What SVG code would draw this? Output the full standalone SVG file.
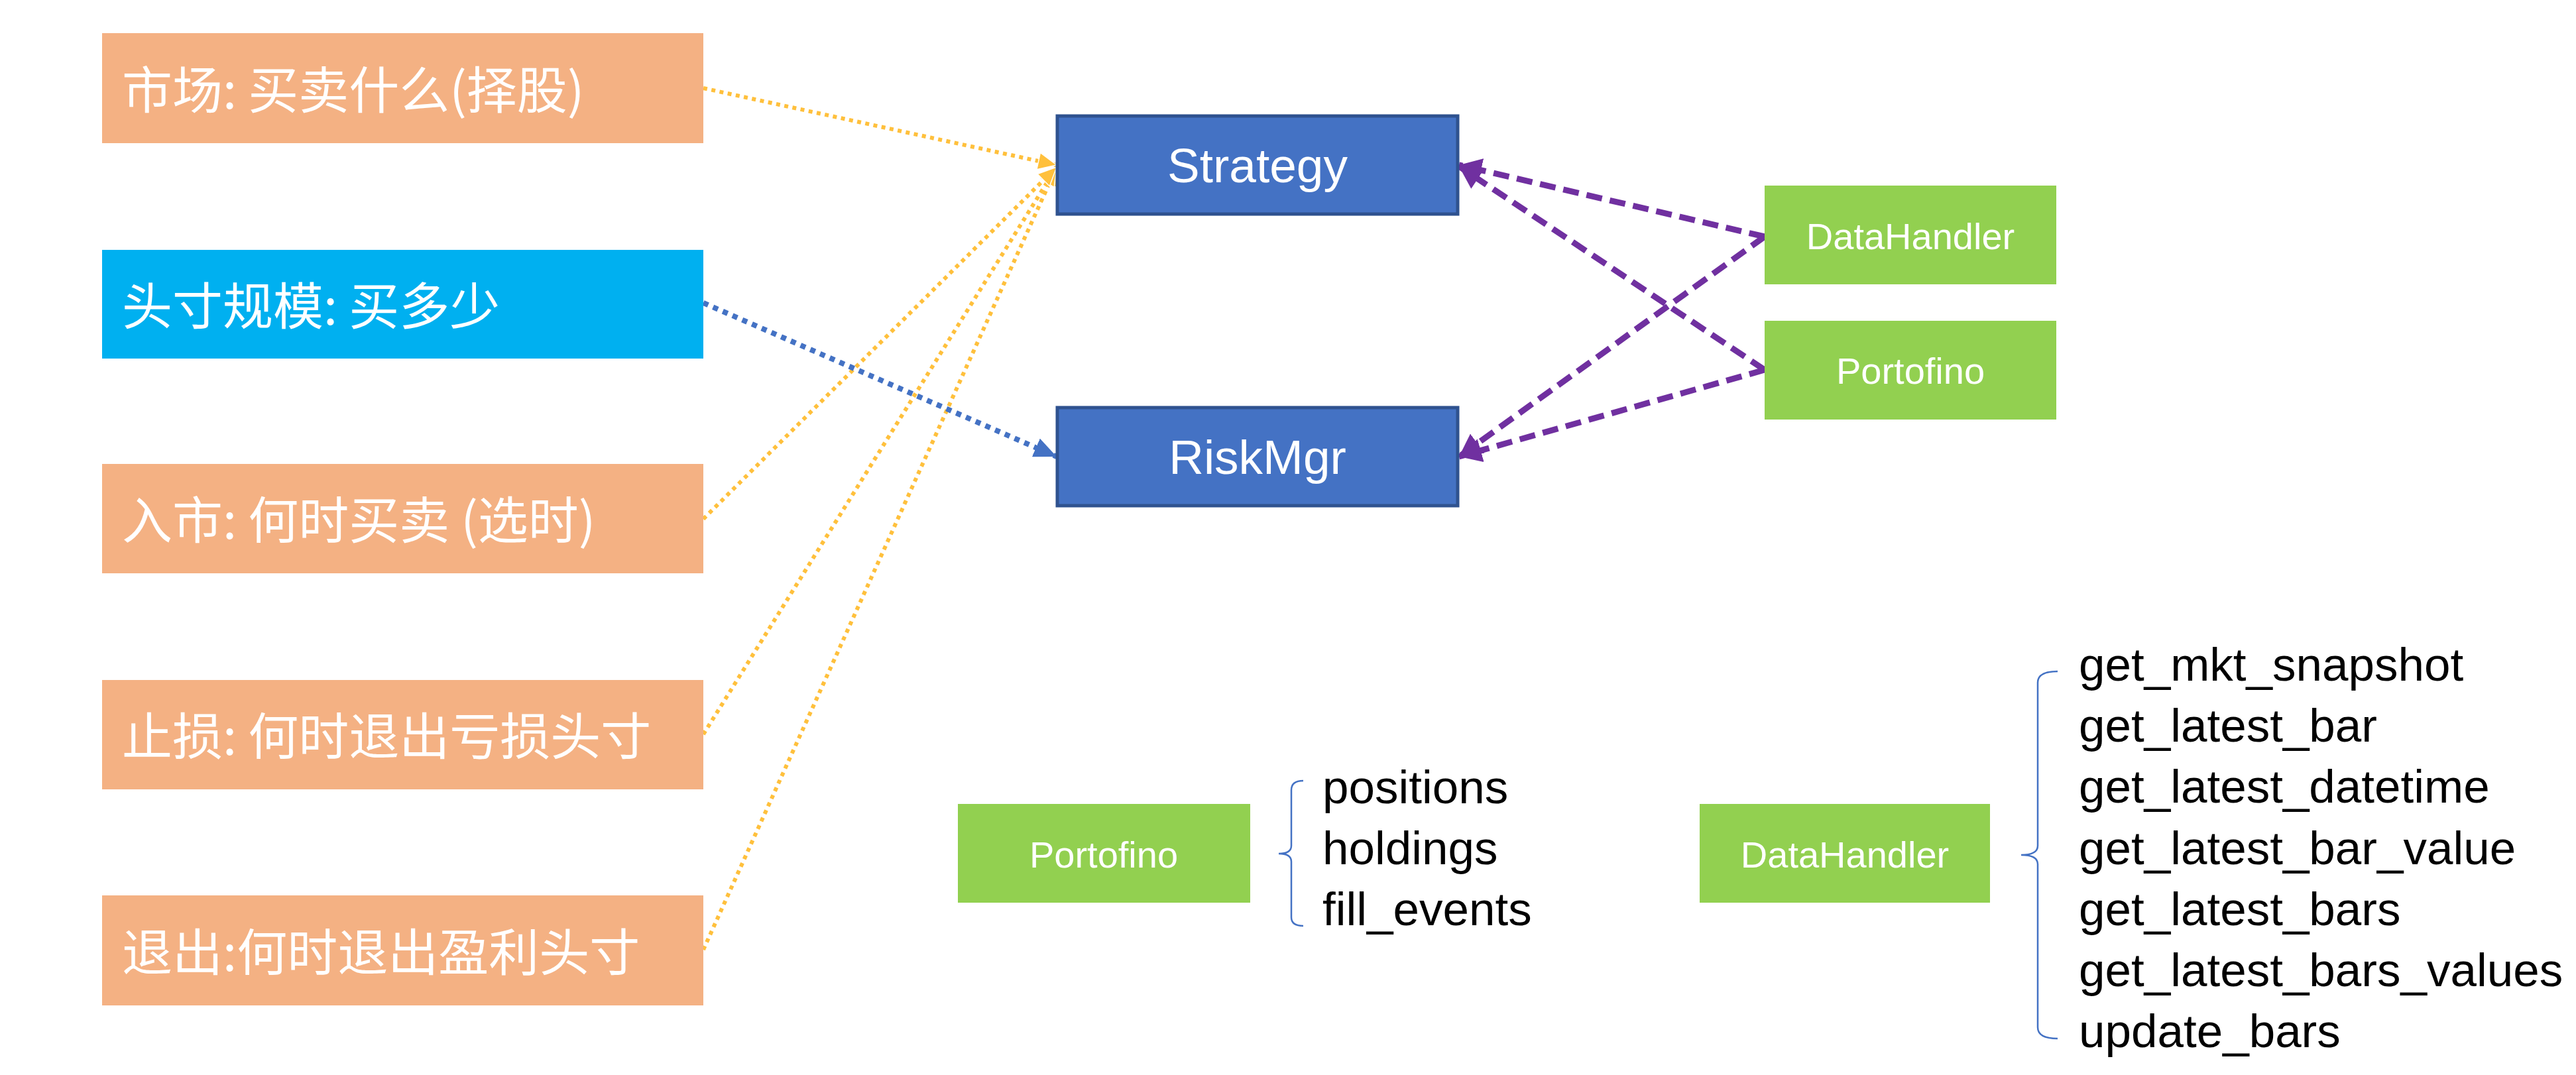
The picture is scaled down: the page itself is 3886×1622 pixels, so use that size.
<svg xmlns="http://www.w3.org/2000/svg" width="3886" height="1622" viewBox="0 0 3886 1622">
<defs>
<style>
.cn{font-family:"Noto Sans CJK SC","Noto Sans",sans-serif;font-size:76px;fill:#ffffff}
.en{font-family:"Liberation Sans",Arial,sans-serif;fill:#ffffff;text-anchor:middle}
.big{font-size:73px}
.mid{font-size:56px}
.lst{font-family:"Liberation Sans",Arial,sans-serif;font-size:71px;fill:#000000}
.org{fill:#F4B183}
.cyan{fill:#00B0F0}
.blue{fill:#4472C4;stroke:#2F528F;stroke-width:5}
.grn{fill:#92D050}
.yl{fill:none;stroke:#FFC03C;stroke-width:6;stroke-dasharray:6 6.5}
.bl{fill:none;stroke:#4472C4;stroke-width:8;stroke-dasharray:8 8}
.pp{fill:none;stroke:#7030A0;stroke-width:9;stroke-dasharray:24 12}
.brace{fill:none;stroke:#4472C4;stroke-width:2.5}
</style>
<marker id="ay" markerUnits="userSpaceOnUse" markerWidth="32" markerHeight="30" refX="29" refY="15" orient="auto"><path d="M1,2 L29,15 L1,28 z" fill="#FFC03C" stroke="#ffffff" stroke-width="1.5"/></marker>
<marker id="ab" markerUnits="userSpaceOnUse" markerWidth="36" markerHeight="30" refX="34" refY="15" orient="auto"><path d="M0,0 L34,15 L0,30 z" fill="#4472C4"/></marker>
<marker id="ap" markerUnits="userSpaceOnUse" markerWidth="36" markerHeight="36" refX="34" refY="18" orient="auto"><path d="M0,0 L34,18 L0,36 z" fill="#7030A0"/></marker>
</defs>
<rect width="3886" height="1622" fill="#ffffff"/>
<g id="connectors">
<line class="yl" x1="1061" y1="1433" x2="1594" y2="252" marker-end="url(#ay)"/>
<line class="yl" x1="1061" y1="1108" x2="1594" y2="252" marker-end="url(#ay)"/>
<line class="yl" x1="1061" y1="783" x2="1594" y2="252" marker-end="url(#ay)"/>
<line class="yl" x1="1061" y1="133" x2="1594" y2="249" marker-end="url(#ay)"/>
<line class="bl" x1="1061" y1="457" x2="1594" y2="689" marker-end="url(#ab)"/>
<line class="pp" x1="2662" y1="357" x2="2201" y2="249" marker-end="url(#ap)"/>
<line class="pp" x1="2662" y1="558" x2="2201" y2="251" marker-end="url(#ap)"/>
<line class="pp" x1="2662" y1="357" x2="2201" y2="689" marker-end="url(#ap)"/>
<line class="pp" x1="2662" y1="558" x2="2201" y2="689" marker-end="url(#ap)"/>
<path class="brace" d="M1966,1178 Q1948,1178 1948,1192 L1948,1276 Q1948,1288 1929,1288 Q1948,1288 1948,1300 L1948,1384 Q1948,1397 1966,1397"/>
<path class="brace" d="M3104,1013 Q3074,1013 3074,1030 L3074,1276 Q3074,1290 3049,1290 Q3074,1290 3074,1304 L3074,1550 Q3074,1567 3104,1567"/>
</g>
<g id="n_market"><rect class="org" x="154" y="50" width="907" height="166"/><text class="cn" x="184" y="164">市场: 买卖什么(择股)</text></g>
<g id="n_size"><rect class="cyan" x="154" y="377" width="907" height="164"/><text class="cn" x="184" y="490">头寸规模: 买多少</text></g>
<g id="n_entry"><rect class="org" x="154" y="700" width="907" height="165"/><text class="cn" x="184" y="813">入市: 何时买卖 (选时)</text></g>
<g id="n_stop"><rect class="org" x="154" y="1026" width="907" height="165"/><text class="cn" x="184" y="1139">止损: 何时退出亏损头寸</text></g>
<g id="n_exit"><rect class="org" x="154" y="1351" width="907" height="166"/><text class="cn" x="184" y="1465">退出:何时退出盈利头寸</text></g>
<g id="n_strategy"><rect class="blue" x="1595" y="175" width="604" height="148"/><text class="en big" x="1897" y="275">Strategy</text></g>
<g id="n_riskmgr"><rect class="blue" x="1595" y="615" width="604" height="148"/><text class="en big" x="1897" y="715">RiskMgr</text></g>
<g id="n_datahandler_top"><rect class="grn" x="2662" y="280" width="440" height="149"/><text class="en mid" x="2882" y="376">DataHandler</text></g>
<g id="n_portofino_top"><rect class="grn" x="2662" y="484" width="440" height="149"/><text class="en mid" x="2882" y="579">Portofino</text></g>
<g id="n_portofino_bottom"><rect class="grn" x="1445" y="1213" width="441" height="149"/><text class="en mid" x="1665" y="1309">Portofino</text></g>
<g id="n_datahandler_bottom"><rect class="grn" x="2564" y="1213" width="438" height="149"/><text class="en mid" x="2783" y="1309">DataHandler</text></g>
<g id="list_portofino">
<text class="lst" x="1995" y="1212">positions</text>
<text class="lst" x="1995" y="1304">holdings</text>
<text class="lst" x="1995" y="1396">fill_events</text>
</g>
<g id="list_datahandler">
<text class="lst" x="3136" y="1027">get_mkt_snapshot</text>
<text class="lst" x="3136" y="1119">get_latest_bar</text>
<text class="lst" x="3136" y="1211">get_latest_datetime</text>
<text class="lst" x="3136" y="1304">get_latest_bar_value</text>
<text class="lst" x="3136" y="1396">get_latest_bars</text>
<text class="lst" x="3136" y="1488">get_latest_bars_values</text>
<text class="lst" x="3136" y="1580">update_bars</text>
</g>
</svg>
